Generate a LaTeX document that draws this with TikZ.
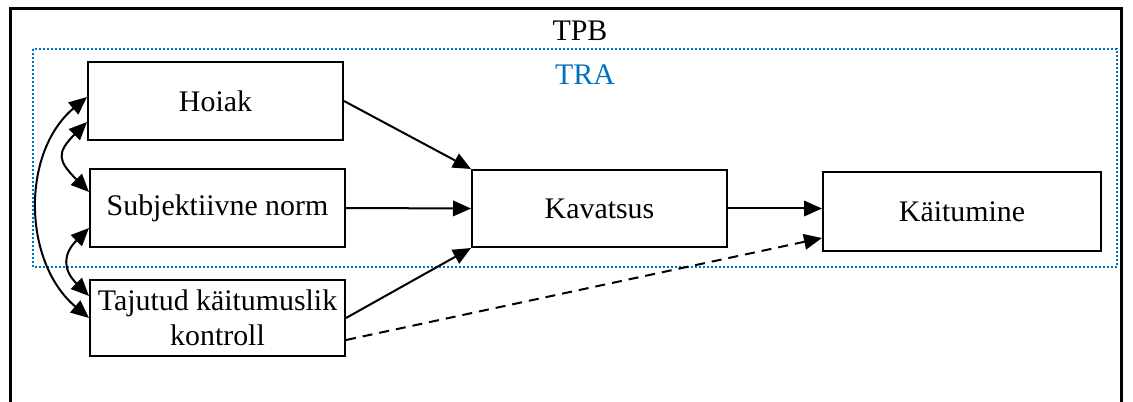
\documentclass[tikz,border=0pt]{standalone}
\usepackage{fontspec}
\setmainfont{Liberation Serif}
\usetikzlibrary{positioning,arrows.meta}
\definecolor{trablue}{RGB}{0,112,192}

\begin{document}
\begin{tikzpicture} [
                x=0.2mm, y=0.2mm,
                every node/.style={font=\fontsize{17}{20}\selectfont},
                modelnode/.style={
                    rectangle,
                    draw,
                    line width=0.4mm,
                    align=center,
                    inner sep=0pt
                },
                link/.style={
                    -{Triangle[length=3.6mm,width=3.1mm]},
                    line width=0.4mm
                },
                corr/.style={
                    {Triangle[length=3.6mm,width=3.1mm]}-{Triangle[length=3.6mm,width=3.1mm]},
                    line width=0.4mm
                }
            ]

                \useasboundingbox (0,0) rectangle (1133,-402);

                % outer TPB frame and the dotted TRA frame
                \draw[line width=0.6mm] (10,-420) -- (10,-9) -- (1121,-9) -- (1121,-420);
                \draw[trablue, line width=0.4mm, dash pattern=on 0.4mm off 0.4mm] (33,-49) rectangle (1117,-267);

                \node                   (tpb)   at (580,-31)    {TPB};
                \node[text=trablue]     (tra)   at (585,-75)    {TRA};

                \node[modelnode, minimum width=51mm,   minimum height=15.6mm]   (hoiak) at (215.5,-101)  {Hoiak};
                \node[modelnode, minimum width=51mm,   minimum height=15.6mm]   (subj)  at (217.5,-208)  {Subjektiivne norm};
                \node[modelnode, minimum width=51mm,   minimum height=15.2mm]   (taj)   at (217.5,-318)  {Tajutud käitumuslik\\kontroll};
                \node[modelnode, minimum width=51mm,   minimum height=15.4mm]   (kav)   at (599.5,-208.5){Kavatsus};
                \node[modelnode, minimum width=55.6mm, minimum height=15.8mm]   (kait)  at (962,-211.5)  {Käitumine};

                % paths into intention and behaviour
                \draw[link] (hoiak.east) -- (kav.north west);
                \draw[link] (subj.east)  -- (kav.west);
                \draw[link] (taj.east)   -- (kav.south west);
                \draw[link] (kav.east)   -- (kav.east -| kait.west);
                \draw[link, dash pattern=on 2mm off 1.4mm] ([yshift=-4.4mm]taj.east) -- ([yshift=-5.3mm]kait.west);

                % correlations between the predictors
                \draw[corr] ([yshift=0.8mm]hoiak.west)  to[out=220, in=140]                 (taj.west);
                \draw[corr] ([yshift=-4.2mm]hoiak.west) to[out=225, in=135, looseness=1.6]  ([yshift=3.2mm]subj.west);
                \draw[corr] ([yshift=-4mm]subj.west)    to[out=225, in=135, looseness=1.4]  ([yshift=4.4mm]taj.west);

            \end{tikzpicture}
\end{document}
